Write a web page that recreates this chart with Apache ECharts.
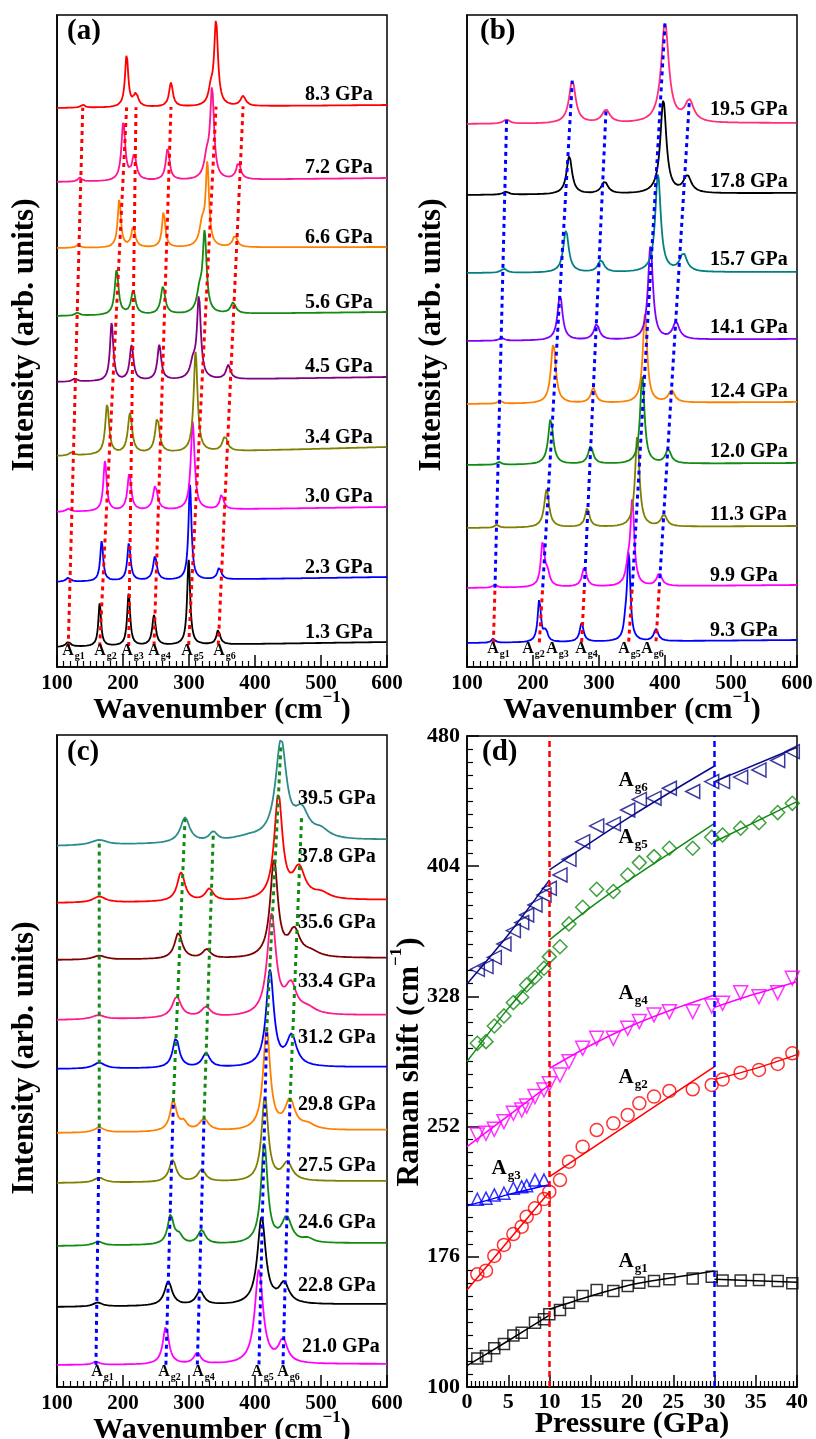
<!DOCTYPE html>
<html>
<head>
<meta charset="utf-8">
<script src="https://cdn.jsdelivr.net/npm/echarts@6/dist/echarts.min.js"></script>
<style>
  html, body { margin: 0; padding: 0; background: #fff; }
  #chart { width: 816px; height: 1439px; }
</style>
</head>
<body>
<div id="chart"></div>
<script>
// ---------- panel (a): 1.3 - 8.3 GPa, modes Ag1..Ag6 ----------
const aLabels = ["1.3 GPa", "2.3 GPa", "3.0 GPa", "3.4 GPa", "4.5 GPa", "5.6 GPa", "6.6 GPa", "7.2 GPa", "8.3 GPa"];
const aBaseL = [20, 85, 155, 211, 285, 351, 419, 485, 559];
const aBaseR = [25, 90, 160, 220, 290, 355, 420, 489, 562];
const aPos = [
  [117, 164.7, 208.6, 247, 299.5, 344.4],
  [117, 167.7, 209, 248.5, 301.5, 346],
  [117, 172.7, 209.6, 249, 305.6, 349.5],
  [122, 176, 210.6, 252, 310, 354.5],
  [127, 182.8, 213, 255, 315, 359.5],
  [130.8, 190.4, 215.6, 260.6, 323.7, 367],
  [132, 194.4, 215.6, 261.6, 327.8, 369.7],
  [134.8, 200.5, 217, 267.7, 335, 375],
  [139, 205.5, 219.7, 272.7, 341, 382],
];
const aAmp = [
  [5, 43, 52, 30, 85, 15],
  [4, 40, 38, 24, 95, 12],
  [3, 50, 37, 25, 88, 15],
  [3, 50, 40, 35, 100, 15],
  [3, 58, 35, 35, 81, 14],
  [3, 45, 24, 28, 78, 11],
  [3, 48, 21, 36, 80, 12],
  [4, 58, 25, 32, 88, 17],
  [3, 52, 13, 24, 84, 10],
];
const aFwhm = [
  [8, 5, 5.5, 6.5, 5.5, 6.5],
  [8, 5.5, 6, 7, 5.5, 7],
  [8, 6, 7, 8, 7, 7],
  [8, 7, 8, 8, 7, 9],
  [8, 6, 7, 7, 7, 8],
  [8, 7, 8, 8, 7, 9],
  [7, 6, 7, 6, 6, 8],
  [7, 7, 8, 7, 7, 8],
  [7, 6, 8, 7, 7, 9],
];
const aExtra = [[], [], [], [], [[306, 15, 10]], [[316, 20, 10]], [[320, 22, 10]], [[327, 20, 10]], [[333, 14, 8]]];

// ---------- panel (b): 9.3 - 19.5 GPa, modes Ag1, Ag2, Ag4, Ag5, Ag6 ----------
const bLabels = ["9.3 GPa", "9.9 GPa", "11.3 GPa", "12.0 GPa", "12.4 GPa", "14.1 GPa", "15.7 GPa", "17.8 GPa", "19.5 GPa"];
const bBaseL = [24, 79, 139, 202, 263, 326, 394, 472, 543];
const bBaseR = [27, 82, 141, 204, 265, 328, 395, 474, 544];
const bPos = [
  [140, 209.6, 273.7, 345, 386.4],
  [142.4, 214.7, 277.8, 350.5, 391.4],
  [145, 220.7, 282.3, 358, 398.5],
  [148.5, 226.8, 287.4, 365.6, 405],
  [150, 230.8, 291.4, 369.7, 410],
  [152.5, 241, 296.5, 378, 416.7],
  [156, 250, 303, 389.4, 427.8],
  [159, 255, 308.6, 397.5, 433.8],
  [160, 259.6, 310.6, 400, 436.8],
];
const bAmp = [
  [4, 43, 19, 88, 12],
  [3, 44, 20, 84, 13],
  [3, 38, 19, 91, 12],
  [3, 46, 18, 89, 14],
  [3, 60, 15, 89, 12],
  [3, 46, 16, 94, 17],
  [4, 42, 12, 98, 18],
  [3, 38, 12, 93, 17],
  [4, 43, 13, 100, 21],
];
const bFwhm = [
  [6, 6, 7, 6, 8],
  [7, 7, 8, 7, 9],
  [7, 9, 8, 8, 10],
  [7, 9, 9, 8, 10],
  [7, 9, 9, 8, 11],
  [8, 9, 10, 9, 12],
  [10, 10, 11, 10, 13],
  [10, 10, 12, 11, 14],
  [12, 12, 14, 14, 16],
];
const bExtra = [[[219.7, 11, 6], [340, 12, 6]], [[222, 12, 8], [344, 15, 8]], [], [], [], [], [], [], []];

// ---------- panel (c): 21.0 - 39.5 GPa, modes Ag1, Ag2, Ag4, Ag5, Ag6 ----------
const cLabels = ["21.0 GPa", "22.8 GPa", "24.6 GPa", "27.5 GPa", "29.8 GPa", "31.2 GPa", "33.4 GPa", "35.6 GPa", "37.8 GPa", "39.5 GPa"];
const cBaseL = [22, 80, 141, 204, 254, 318, 367, 427, 484, 541];
const cBaseR = [23, 83, 144, 206, 257, 320, 372, 429, 487, 547];
const cPos = [
  [159, 265, 312.6, 406, 442.4],
  [161.6, 268.7, 316.7, 410, 444],
  [162.6, 272.2, 319.2, 414.1, 448],
  [164, 275.3, 319.2, 415, 449],
  [164, 276.3, 322.7, 417.7, 453],
  [164, 280.3, 325.8, 422.7, 455.5],
  [162.6, 281.3, 325.8, 425.2, 454.5],
  [164, 284, 326.8, 428.8, 459.6],
  [164, 288, 330.8, 435.4, 466.7],
  [164, 294, 336.8, 439.4, 470.7],
];
const cAmp = [
  [3, 38, 11, 94, 23],
  [4, 24, 14, 87, 20],
  [4, 29, 14, 100, 25],
  [5, 22, 12, 85, 18],
  [5, 30, 12, 100, 29],
  [6, 30, 14, 96, 30],
  [4, 21, 10, 100, 28],
  [4, 26, 9, 97, 26],
  [6, 29, 12, 104, 30],
  [5, 25, 9, 98, 26],
];
const cFwhm = [
  [12, 11, 12, 15, 16],
  [16, 14, 14, 15, 18],
  [16, 11, 13, 12, 18],
  [18, 13, 14, 12, 18],
  [18, 12, 16, 13, 18],
  [20, 12, 14, 14, 18],
  [22, 16, 16, 16, 20],
  [22, 14, 14, 14, 20],
  [22, 14, 14, 15, 22],
  [28, 17, 14, 20, 26],
];
const cExtra = [[], [], [[285, 8, 12], [480, 4, 20]], [], [[292, 8, 12], [480, 5, 25]], [], [[480, 6, 30]], [[485, 5, 30]], [[500, 6, 30]], [[500, 8, 30], [390, 4, 60]]];

// ---------- panel (d): Raman shift vs pressure ----------
const pressure = [1.25, 2.3, 3.31, 4.48, 5.62, 6.63, 7.23, 8.24, 9.33, 9.98, 11.27, 12.36, 14.02, 15.72, 17.74, 19.48, 20.89, 22.67, 24.53, 27.36, 29.66, 30.98, 33.17, 35.39, 37.66, 39.43];
const ag1 = [116.7, 118.1, 122.6, 125.1, 130.0, 131.7, null, 137.5, 139.5, 142.4, 145.0, 149.2, 153.1, 156.6, 156.0, 159.0, 160.9, 161.9, 162.9, 163.3, 164.4, 162.1, 162.1, 162.5, 161.9, 160.5];
const ag2 = [165.8, 167.9, 176.5, 182.9, 189.3, 193.6, 199.4, 204.3, 209.7, 214.0, 220.8, 231.5, 240.3, 250.0, 253.9, 258.8, 265.6, 269.5, 272.8, 273.8, 276.3, 279.5, 283.5, 285.1, 288.6, 294.8];
const ag3 = [209.6, 210.2, 212.1, 213.1, 216.0, 216.9, 217.5, 220.8, 220.8];
const ag4 = [247.1, 248.1, 250.4, 254.9, 259.8, 261.7, 264.0, 269.5, 273.4, 277.0, 282.1, 289.9, 297.7, 303.5, 303.5, 309.4, 313.3, 317.2, 319.1, 319.1, 322.4, 324.0, 330.2, 327.8, 330.2, 338.6];
const ag5 = [300.6, 301.6, 310.7, 316.6, 324.4, 327.5, 334.7, 339.2, 344.4, 351.2, 357.0, 370.3, 380.0, 390.5, 389.2, 398.9, 406.1, 409.6, 414.5, 414.5, 420.9, 422.2, 426.2, 429.4, 435.3, 440.7];
const ag6 = [343.8, 345.4, 350.8, 358.6, 366.4, 371.1, 375.5, 381.4, 387.2, 391.1, 398.9, 408.0, 418.3, 427.5, 428.7, 436.8, 443.0, 443.7, 449.5, 447.6, 453.4, 453.4, 456.0, 460.2, 465.7, 470.9];
// fitted curves, one list of points per pressure region
const ag1Fit = [[[0, 112.5], [5, 127], [10, 142]], [[10, 145.4], [15, 153.1], [20, 159.8], [25, 163.9], [30, 167.7]], [[30, 162.9], [40, 161.1]]];
const ag2Fit = [[[0, 156.6], [10, 214]], [[10, 222.8], [30, 287]], [[30, 279.5], [35, 286], [40, 294]]];
const ag3Fit = [[[0, 205.7], [5, 212.3], [10, 218]]];
const ag4Fit = [[[0, 240.3], [10, 276.3]], [[10, 286], [15, 299.5], [20, 311], [25, 320.5], [30, 328.8]], [[30, 321.6], [35, 329.5], [40, 336.6]]];
const ag5Fit = [[[0, 290], [5, 321], [10, 348.3]], [[10, 361], [15, 380], [20, 397], [25, 413], [30, 429]], [[30, 418.3], [40, 441.7]]];
const ag6Fit = [[[0, 335.3], [5, 364], [10, 396]], [[10, 401.8], [20, 433.5], [30, 462.5]], [[30, 453.4], [40, 473.4]]];
const transitions = [10, 30];

// ---------- styling ----------
const SERIF = '"Liberation Serif", "Times New Roman", serif';
const aColors = ["#000000", "#0000ff", "#ff00ff", "#808000", "#800080", "#138a13", "#ff8000", "#ff1493", "#ff0000"];
const bColors = ["#0000ff", "#ff00ff", "#808000", "#138a13", "#ff8000", "#8000ff", "#008080", "#000000", "#ff2e7e"];
const cColors = ["#ff00ff", "#000000", "#138a13", "#808000", "#ff8000", "#0000ff", "#ff1a8c", "#7f0000", "#ff0000", "#2e8b8b"];

function baseAt(bl, br, x) {
  return bl + ((br - bl) * (x - 100)) / 500;
}

function lorentz(x, c, a, w) {
  const d = (x - c) / (w / 2);
  return a / (1 + d * d);
}

function makeSpectrum(bl, br, pos, amp, fw, extra) {
  const pts = [];
  for (let i = 0; i <= 1000; i++) {
    const x = 100 + i * 0.5;
    let y = baseAt(bl, br, x);
    pos.forEach((c, k) => {
      y += lorentz(x, c, amp[k], fw[k]);
    });
    extra.forEach(([c, a, w]) => {
      y += lorentz(x, c, a, w);
    });
    pts.push([x, Number(y.toFixed(2))]);
  }
  return pts;
}

const series = [];

function addSpectra(idx, bl, br, pos, amp, fw, extra, colors) {
  pos.forEach((p, s) => {
    series.push({
      type: "line",
      xAxisIndex: idx,
      yAxisIndex: idx,
      data: makeSpectrum(bl[s], br[s], p, amp[s], fw[s], extra[s]),
      showSymbol: false,
      symbol: "none",
      silent: true,
      lineStyle: { color: colors[s], width: 1.8 },
      z: 2,
    });
  });
}

function guide(idx, pts, color) {
  series.push({
    type: "line",
    xAxisIndex: idx,
    yAxisIndex: idx,
    data: pts,
    showSymbol: false,
    symbol: "none",
    silent: true,
    lineStyle: { color, width: 3, type: [4, 4] },
    z: 5,
  });
}

addSpectra(0, aBaseL, aBaseR, aPos, aAmp, aFwhm, aExtra, aColors);
addSpectra(1, bBaseL, bBaseR, bPos, bAmp, bFwhm, bExtra, bColors);
addSpectra(2, cBaseL, cBaseR, cPos, cAmp, cFwhm, cExtra, cColors);

// (a) red guides from 1.3 to 8.3 GPa
const aTop = aPos.length - 1;
aPos[0].forEach((x0, k) => {
  const x1 = aPos[aTop][k];
  guide(0, [[x0, baseAt(aBaseL[0], aBaseR[0], x0)], [x1, baseAt(aBaseL[aTop], aBaseR[aTop], x1)]], "#ff0000");
});
// (b) red between 9.3 and 9.9 GPa, blue above
const bTop = bPos.length - 1;
bPos[0].forEach((x0, k) => {
  const x1 = bPos[1][k];
  const x2 = bPos[bTop][k];
  const y1 = baseAt(bBaseL[1], bBaseR[1], x1);
  guide(1, [[x0, baseAt(bBaseL[0], bBaseR[0], x0)], [x1, y1]], "#ff0000");
  guide(1, [[x1, y1], [x2, baseAt(bBaseL[bTop], bBaseR[bTop], x2) + bAmp[bTop][k]]], "#0000ff");
});
// (c) blue up to 29.8 GPa, green above
const cMid = 4;
const cTop = cPos.length - 1;
cPos[0].forEach((x0, k) => {
  const x1 = cPos[cMid][k];
  const x2 = cPos[cTop][k];
  const y1 = baseAt(cBaseL[cMid], cBaseR[cMid], x1) + cAmp[cMid][k];
  guide(2, [[x0, baseAt(cBaseL[0], cBaseR[0], x0)], [x1, y1]], "#0000ff");
  guide(2, [[x1, y1], [x2, baseAt(cBaseL[cTop], cBaseR[cTop], x2) + cAmp[cTop][k]]], "#138a13");
});

// (d) markers and fitted lines
const modes = [
  { vals: ag1, fit: ag1Fit, color: "#000000", symbol: "rect", size: 11, rotate: 0 },
  { vals: ag2, fit: ag2Fit, color: "#ff0000", symbol: "circle", size: 13, rotate: 0 },
  { vals: ag3, fit: ag3Fit, color: "#0000ff", symbol: "triangle", size: 12, rotate: 0 },
  { vals: ag4, fit: ag4Fit, color: "#ff00ff", symbol: "triangle", size: 14, rotate: 180 },
  { vals: ag5, fit: ag5Fit, color: "#138a13", symbol: "diamond", size: 14, rotate: 0 },
  { vals: ag6, fit: ag6Fit, color: "#0a0a8a", symbol: "triangle", size: 14, rotate: 90 },
];
modes.forEach((m) => {
  m.fit.forEach((seg) => {
    series.push({
      type: "line",
      xAxisIndex: 3,
      yAxisIndex: 3,
      data: seg,
      smooth: seg.length > 2 ? 0.3 : false,
      showSymbol: false,
      symbol: "none",
      silent: true,
      lineStyle: { color: m.color, width: 1.5 },
      z: 3,
    });
  });
  series.push({
    type: "scatter",
    xAxisIndex: 3,
    yAxisIndex: 3,
    data: m.vals.map((v, i) => [pressure[i], v]).filter((p) => p[1] != null),
    symbol: m.symbol,
    symbolSize: m.size,
    symbolRotate: m.rotate,
    silent: true,
    itemStyle: { color: "rgba(0,0,0,0)", borderColor: m.color, borderWidth: 1.5 },
    z: 4,
  });
});
transitions.forEach((p, i) => {
  series.push({
    type: "line",
    xAxisIndex: 3,
    yAxisIndex: 3,
    data: [[p, 100], [p, 480]],
    showSymbol: false,
    symbol: "none",
    silent: true,
    lineStyle: { color: i === 0 ? "#ff0000" : "#0000ff", width: 2.5, type: [6, 4] },
    z: 6,
  });
});

// ---------- axes ----------
const tickLabel = { color: "#000", fontFamily: SERIF, fontWeight: "bold", fontSize: 21, showMinLabel: true, showMaxLabel: true };
const blackLine = { lineStyle: { color: "#000", width: 1.5 } };

function specX(i) {
  return {
    gridIndex: i,
    type: "value",
    min: 100,
    max: 600,
    interval: 100,
    axisLine: blackLine,
    axisTick: { inside: true, length: 12, lineStyle: { color: "#000", width: 1.5 } },
    minorTick: { show: true, splitNumber: 10, length: 6, lineStyle: { color: "#000", width: 1.2 } },
    axisLabel: { ...tickLabel, margin: 6 },
    splitLine: { show: false },
    minorSplitLine: { show: false },
  };
}

function specY(i) {
  return {
    gridIndex: i,
    type: "value",
    min: 0,
    max: 652,
    axisLine: { show: true, ...blackLine },
    axisTick: { show: false },
    axisLabel: { show: false },
    splitLine: { show: false },
  };
}

function grid(left, top, height) {
  return { left, top, width: 330, height, show: true, borderColor: "#000", borderWidth: 1.5, backgroundColor: "transparent", containLabel: false, outerBoundsMode: "none" };
}

// ---------- text ----------
const graphic = [];

function text(x, y, str, size, align, extra) {
  graphic.push({
    type: "text",
    x,
    y,
    silent: true,
    z: 100,
    ...(extra || {}),
    style: { text: str, fill: "#000", font: `bold ${size}px ${SERIF}`, align: align || "left", verticalAlign: "middle" },
  });
}

function agLabel(cx, cy, sub, big, small) {
  text(cx, cy, "A", big, "center");
  text(cx + big * 0.42, cy + big * 0.33, sub, small, "left");
}

function supTitle(x, y, main, tail, size, rotation) {
  graphic.push({
    type: "text",
    x,
    y,
    rotation: rotation || 0,
    silent: true,
    z: 100,
    style: {
      text: `{n|${main}}{s|−1}{n|${tail}}`,
      align: "center",
      verticalAlign: "middle",
      rich: {
        n: { fontFamily: SERIF, fontWeight: "bold", fontSize: size, lineHeight: size + 6, verticalAlign: "bottom", fill: "#000" },
        s: { fontFamily: SERIF, fontWeight: "bold", fontSize: Math.round(size * 0.55), lineHeight: Math.round(size * 0.55), verticalAlign: "top", fill: "#000" },
      },
    },
  });
}

// panel letters
text(67, 32, "(a)", 29);
text(480, 32, "(b)", 29);
text(67, 753, "(c)", 29);
text(482, 753, "(d)", 29);

// pressure labels
const aLabelY = [633, 568, 497, 438, 367, 303, 238, 168, 95];
const bLabelY = [631, 576, 515, 452, 392, 328, 260, 182, 110];
const cLabelY = [1347, 1286, 1223, 1166, 1105, 1038, 982, 923, 857, 799];
aLabels.forEach((s, i) => text(305, aLabelY[i], s, 20));
bLabels.forEach((s, i) => text(710, bLabelY[i], s, 20));
cLabels.forEach((s, i) => text(i === 0 ? 302 : 298, cLabelY[i], s, 20));

// mode labels under the lowest spectra
[68, 100, 127, 154, 187, 219].forEach((x, k) => agLabel(x, 651, "g" + (k + 1), 16, 10));
[493, 528, 552, 581, 624, 647].forEach((x, k) => agLabel(x, 649, "g" + (k + 1), 16, 10));
const cModes = ["g1", "g2", "g4", "g5", "g6"];
[97, 164, 198, 257, 283].forEach((x, k) => agLabel(x, 1372, cModes[k], 16, 10));

// mode labels in (d)
agLabel(626, 781, "g6", 21, 13);
agLabel(626, 838, "g5", 21, 13);
agLabel(626, 994, "g4", 21, 13);
agLabel(626, 1078, "g2", 21, 13);
agLabel(499, 1169, "g3", 21, 13);
agLabel(626, 1262, "g1", 21, 13);

// axis titles
supTitle(222, 707, "Wavenumber (cm", ")", 30, 0);
supTitle(632, 707, "Wavenumber (cm", ")", 30, 0);
supTitle(222, 1427, "Wavenumber (cm", ")", 30, 0);
text(25, 335, "Intensity (arb. units)", 31, "center", { rotation: Math.PI / 2 });
text(432, 335, "Intensity (arb. units)", 31, "center", { rotation: Math.PI / 2 });
text(25, 1058, "Intensity (arb. units)", 31, "center", { rotation: Math.PI / 2 });
supTitle(407, 1062, "Raman shift (cm", ")", 31, Math.PI / 2);
text(632, 1424, "Pressure (GPa)", 30, "center");

// ---------- chart ----------
const chart = echarts.init(document.getElementById("chart"), null, { renderer: "canvas" });
chart.setOption({
  animation: false,
  backgroundColor: "#fff",
  grid: [grid(57, 15, 652), grid(467, 15, 652), grid(57, 735, 652), grid(467, 736, 651)],
  xAxis: [
    specX(0),
    specX(1),
    specX(2),
    {
      gridIndex: 3,
      type: "value",
      min: 0,
      max: 40,
      interval: 5,
      axisLine: blackLine,
      axisTick: { inside: true, length: 12, lineStyle: { color: "#000", width: 1.5 } },
      minorTick: { show: true, splitNumber: 10, length: 6, lineStyle: { color: "#000", width: 1.2 } },
      axisLabel: { ...tickLabel, fontSize: 22, margin: 4 },
      splitLine: { show: false },
    },
  ],
  yAxis: [
    specY(0),
    specY(1),
    specY(2),
    {
      gridIndex: 3,
      type: "value",
      min: 100,
      max: 480,
      interval: 76,
      axisLine: blackLine,
      axisTick: { inside: true, length: 12, lineStyle: { color: "#000", width: 1.5 } },
      minorTick: { show: true, splitNumber: 10, length: 6, lineStyle: { color: "#000", width: 1.2 } },
      axisLabel: { ...tickLabel, fontSize: 22, margin: 7 },
      splitLine: { show: false },
    },
  ],
  series,
  graphic,
});
</script>
</body>
</html>
